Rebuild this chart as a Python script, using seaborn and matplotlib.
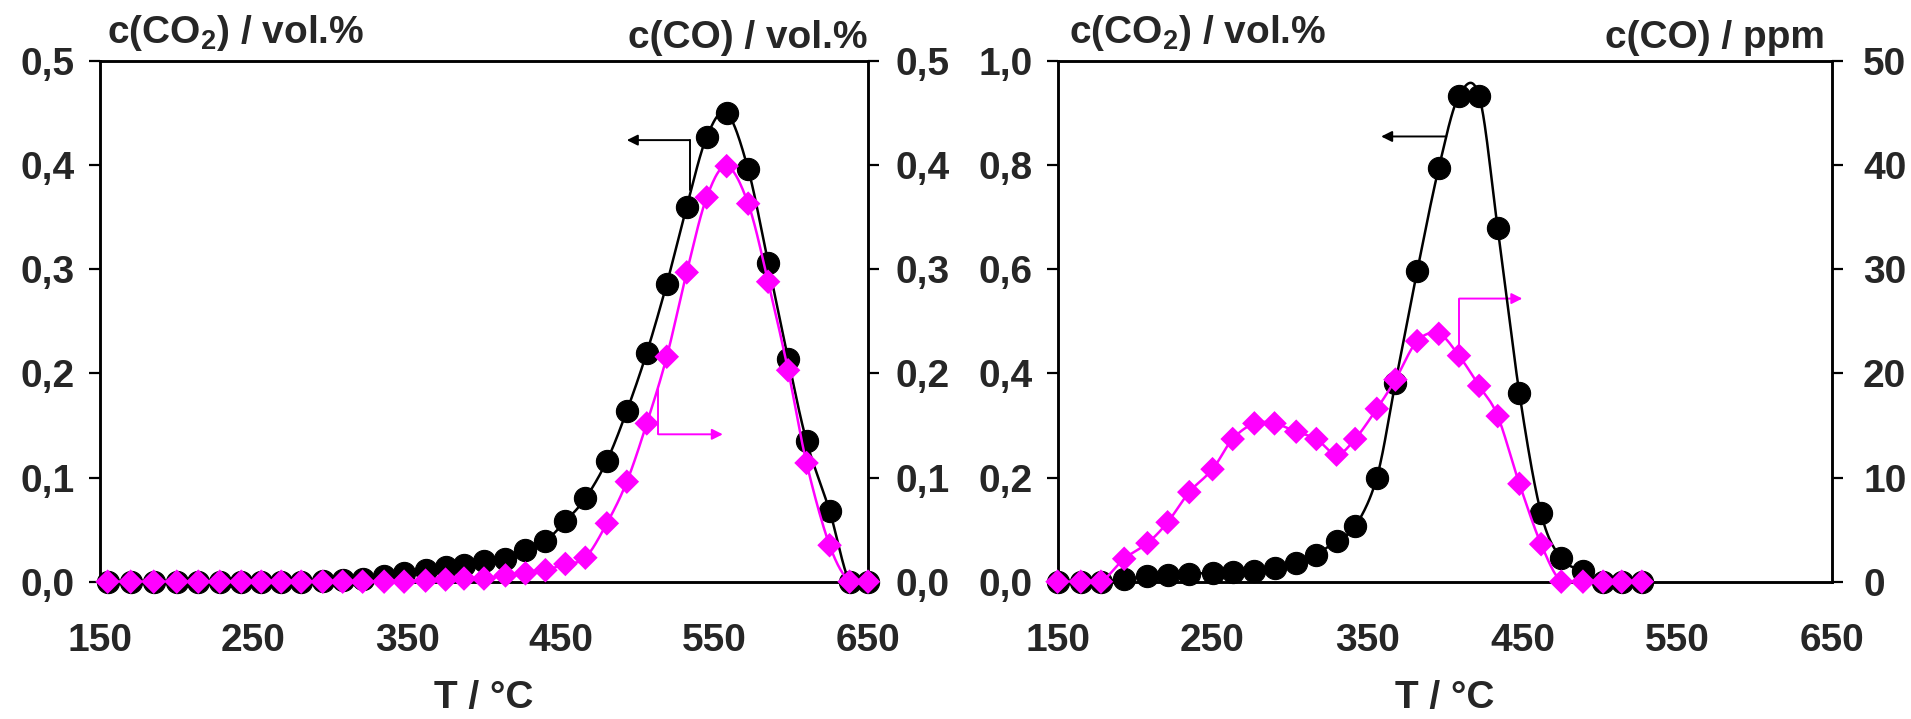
import numpy as np
import pandas as pd
import matplotlib
matplotlib.use("Agg")
import matplotlib.pyplot as plt
from matplotlib.ticker import FuncFormatter, MultipleLocator
import seaborn as sns

# ---- data -------------------------------------------------------------
T_A = [155, 170, 185, 200, 214, 228, 242, 255, 268, 281, 295, 308, 321, 335,
       348, 362, 375, 387, 400, 414, 427, 440, 453, 466, 480, 493, 506, 519,
       532, 545, 558, 572, 585, 598, 610, 625, 638, 650]
CO2_A = [0, 0, 0, 0, 0, 0, 0, 0, 0, 0, 0.001, 0.002, 0.003, 0.005, 0.008,
         0.011, 0.014, 0.016, 0.020, 0.022, 0.030, 0.039, 0.058, 0.080, 0.116,
         0.164, 0.220, 0.286, 0.360, 0.427, 0.450, 0.396, 0.306, 0.214, 0.135,
         0.068, 0, 0]
CO_A = [0, 0, 0, 0, 0, 0, 0, 0, 0, 0, 0, 0, 0, 0, 0, 0.001, 0.002, 0.003,
        0.003, 0.006, 0.008, 0.011, 0.017, 0.023, 0.056, 0.096, 0.152, 0.216,
        0.297, 0.369, 0.399, 0.363, 0.288, 0.203, 0.114, 0.035, 0, 0]

T_B = [150, 165, 178, 193, 208, 221, 235, 250, 263, 277, 290, 304, 317, 330,
       342, 356, 368, 382, 396, 409, 422, 434, 448, 462, 475, 489, 502, 514, 527]
CO2_B = [0, 0, 0, 0.005, 0.010, 0.012, 0.015, 0.017, 0.019, 0.021, 0.027,
         0.035, 0.052, 0.079, 0.106, 0.200, 0.382, 0.596, 0.795, 0.933, 0.933,
         0.679, 0.362, 0.131, 0.045, 0.020, 0, 0, 0]
CO_B_ppm = [0, 0, 0, 2.2, 3.7, 5.7, 8.6, 10.8, 13.7, 15.2, 15.2, 14.4, 13.7,
            12.2, 13.7, 16.6, 19.4, 23.1, 23.8, 21.7, 18.8, 15.9, 9.4, 3.6,
            0, 0, 0, 0, 0]

X_TICKS = [150, 250, 350, 450, 550, 650]
X_LABEL = "T / °C"
LEFT_Y_LABEL = "c(CO$_\\mathbf{2}$) / vol.%"
A_RIGHT_LABEL = "c(CO) / vol.%"
B_RIGHT_LABEL = "c(CO) / ppm"

MAGENTA = "#FF00FF"
BLACK = "#000000"

# ---- style ------------------------------------------------------------
sns.set_theme(style="white")
FONT = ["Liberation Sans", "Arial", "DejaVu Sans"]
plt.rcParams["font.family"] = FONT
plt.rcParams["font.weight"] = "bold"
plt.rcParams["mathtext.fontset"] = "custom"
plt.rcParams["mathtext.rm"] = "Liberation Sans:bold"
plt.rcParams["mathtext.bf"] = "Liberation Sans:bold"
plt.rcParams["mathtext.it"] = "Liberation Sans:bold"
plt.rcParams["mathtext.default"] = "bf"

TICK_FS = 28
LABEL_FS = 28
XLABEL_FS = 28
SPINE_W = 1.8


def catmull_rom(x, y, sx, sy, n=24):
    """Smooth curve through the points (Excel-style smoothed line)."""
    P = np.column_stack([np.asarray(x, float) * sx, np.asarray(y, float) * sy])
    P = np.vstack([P[0], P, P[-1]])
    t = np.linspace(0, 1, n)[:, None]
    out = []
    for i in range(1, len(P) - 2):
        p0, p1, p2, p3 = P[i - 1], P[i], P[i + 1], P[i + 2]
        seg = 0.5 * ((2 * p1) + (-p0 + p2) * t
                     + (2 * p0 - 5 * p1 + 4 * p2 - p3) * t ** 2
                     + (-p0 + 3 * p1 - 3 * p2 + p3) * t ** 3)
        out.append(seg if i == 1 else seg[1:])
    C = np.vstack(out)
    return C[:, 0] / sx, C[:, 1] / sy


def comma(dec):
    return FuncFormatter(lambda v, p: f"{v:.{dec}f}".replace(".", ","))


def style_axis(ax, ymax, ystep, dec, right=False, rpad=11):
    ax.set_xlim(150, 650)
    ax.set_ylim(0, ymax)
    ax.xaxis.set_major_locator(MultipleLocator(100))
    ax.xaxis.set_minor_locator(MultipleLocator(50))
    ax.yaxis.set_major_locator(MultipleLocator(ystep))
    ax.yaxis.set_major_formatter(comma(dec))
    for s in ax.spines.values():
        s.set_visible(True)
        s.set_linewidth(SPINE_W)
        s.set_color(BLACK)
    ax.tick_params(axis="both", which="both", direction="out", length=8,
                   width=1.6, color=BLACK, labelsize=TICK_FS)
    ax.tick_params(axis="x", which="both", top=False, pad=22)
    if right:
        ax.tick_params(axis="y", left=False, right=True, labelleft=False,
                       labelright=True, pad=rpad)
    else:
        ax.tick_params(axis="y", left=True, right=False, pad=10)
    ax.grid(False)


def draw_series(ax, T, vals, color, marker, ms, ymax, lw=1.8):
    sx, sy = 768 / 500, 520 / ymax
    cx, cy = catmull_rom(T, vals, sx, sy)
    curve = pd.DataFrame({"T": cx, "v": cy})
    pts = pd.DataFrame({"T": T, "v": vals})
    sns.lineplot(data=curve, x="T", y="v", ax=ax, color=color, lw=lw,
                 sort=False, estimator=None, zorder=2)
    sns.scatterplot(data=pts, x="T", y="v", ax=ax, color=color, marker=marker,
                    s=ms ** 2, edgecolor=color if marker == "o" else "none",
                    linewidth=0.8 if marker == "o" else 0, zorder=3,
                    clip_on=False)
    ax.set_xlabel("")
    ax.set_ylabel("")


def elbow_arrow(ax, pts, color):
    """Thin bent pointer: polyline ending in a small filled arrow head."""
    xs = [p[0] for p in pts]
    ys = [p[1] for p in pts]
    if len(pts) > 2:
        ax.plot(xs[:-1], ys[:-1], color=color, lw=1.4, zorder=1)
    ax.annotate("", xy=pts[-1], xytext=pts[-2],
                arrowprops=dict(arrowstyle="-|>", color=color, lw=1.4,
                                mutation_scale=16, shrinkA=0, shrinkB=0),
                zorder=1)


fig = plt.figure(figsize=(19.11, 7.19), dpi=100)
fig.patch.set_facecolor("white")

# ---- left panel ----------------------------------------------------------
axA = fig.add_axes([0.0523, 0.1910, 0.4019, 0.7242])
axA2 = axA.twinx()
draw_series(axA, T_A, CO2_A, BLACK, "o", 16, 0.5)
draw_series(axA2, T_A, CO_A, MAGENTA, "D", 12.5, 0.5)
style_axis(axA, 0.5, 0.1, 1)
style_axis(axA2, 0.5, 0.1, 1, right=True, rpad=12)
axA.set_xticks(X_TICKS)
axA.set_xlabel(X_LABEL, fontsize=XLABEL_FS, fontweight="bold", labelpad=15)
elbow_arrow(axA, [(534, 0.376), (534, 0.424), (493, 0.424)], BLACK)
elbow_arrow(axA2, [(513.6, 0.187), (513.6, 0.1415), (555.5, 0.1415)], MAGENTA)
axA.text(0.009, 1.034, LEFT_Y_LABEL, transform=axA.transAxes, ha="left",
         va="baseline", fontsize=LABEL_FS, fontweight="bold")
axA.text(1.0, 1.025, A_RIGHT_LABEL, transform=axA.transAxes, ha="right",
         va="baseline", fontsize=LABEL_FS, fontweight="bold")

# ---- right panel ---------------------------------------------------------
axB = fig.add_axes([0.5534, 0.1910, 0.4055, 0.7242])
axB2 = axB.twinx()
draw_series(axB, T_B, CO2_B, BLACK, "o", 16, 1.0)
draw_series(axB2, T_B, CO_B_ppm, MAGENTA, "D", 12.5, 50)
style_axis(axB, 1.0, 0.2, 1)
style_axis(axB2, 50, 10, 0, right=True, rpad=14)
axB.set_xticks(X_TICKS)
axB.set_xlabel(X_LABEL, fontsize=XLABEL_FS, fontweight="bold", labelpad=15)
elbow_arrow(axB, [(400.8, 0.855), (358.8, 0.855)], BLACK)
elbow_arrow(axB, [(409.2, 0.446), (409.2, 0.5437), (449.9, 0.5437)], MAGENTA)
axB.text(0.015, 1.034, LEFT_Y_LABEL, transform=axB.transAxes, ha="left",
         va="baseline", fontsize=LABEL_FS, fontweight="bold")
axB.text(0.99, 1.025, B_RIGHT_LABEL, transform=axB.transAxes, ha="right",
         va="baseline", fontsize=LABEL_FS, fontweight="bold")

fig.savefig("out.png", dpi=100, facecolor="white")
